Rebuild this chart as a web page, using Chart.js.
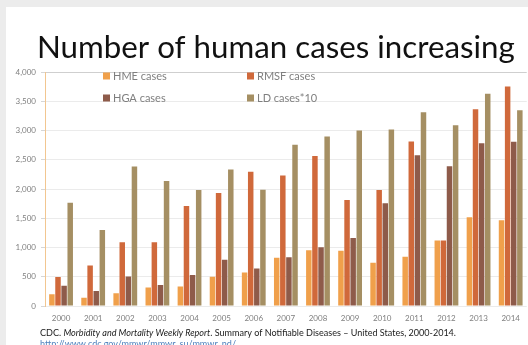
<!DOCTYPE html>
<html>
<head>
<meta charset="utf-8">
<script src="https://cdn.jsdelivr.net/npm/chart.js@4/dist/chart.umd.min.js"></script>
<style>
  html, body { margin: 0; padding: 0; background: #ececec; }
  #wrap { position: absolute; left: 0; top: 0; width: 528px; height: 345px; }
</style>
</head>
<body>
<div id="wrap"><canvas id="chart" width="528" height="345"></canvas></div>
<script>
const years = ['2000', '2001', '2002', '2003', '2004', '2005', '2006', '2007',
  '2008', '2009', '2010', '2011', '2012', '2013', '2014'];
const hmeCases = [200, 142, 216, 318, 335, 500, 574, 824, 954, 943, 738, 841, 1119, 1517, 1465];
const rmsfCases = [494, 693, 1091, 1091, 1710, 1931, 2295, 2232, 2562, 1812, 1982, 2812, 1119, 3363, 3754];
const hgaCases = [346, 256, 506, 358, 528, 790, 642, 835, 1005, 1164, 1755, 2579, 2391, 2783, 2806];
const ldCasesX10 = [1767, 1301, 2386, 2136, 1982, 2334, 1988, 2755, 2897, 2999, 3016, 3311, 3090, 3630, 3346];
const seriesNames = ['HME cases', 'RMSF cases', 'HGA cases', 'LD cases*10'];
const seriesColors = ['#f0a04b', '#d0693b', '#8e5b4a', '#a58f63'];
const yMax = 4000;
const yStep = 500;

const titleText = 'Number of human cases increasing';
const sourceParts = [
  ['CDC. ', false],
  ['Morbidity and Mortality Weekly Report', true],
  ['. Summary of Notifiable Diseases \u2013 United States, 2000-2014.', false]
];
const sourceLink = 'http://www.cdc.gov/mmwr/mmwr_su/mmwr_nd/';

const FONT = 'Lato, "Open Sans", sans-serif';

// slide frame, title, legend and source note
const slidePlugin = {
  id: 'slide',
  beforeDraw(chart) {
    const ctx = chart.ctx;
    ctx.save();
    ctx.fillStyle = '#ececec';
    ctx.fillRect(0, 0, chart.width, chart.height);
    ctx.fillStyle = '#ffffff';
    ctx.fillRect(6, 7, chart.width - 6, chart.height - 7);
    ctx.restore();
  },
  afterDraw(chart) {
    const ctx = chart.ctx;
    ctx.save();

    // title, fitted to its width in the slide
    let size = 32;
    ctx.font = size + 'px ' + FONT;
    size = size * 478 / ctx.measureText(titleText).width;
    ctx.font = size + 'px ' + FONT;
    ctx.fillStyle = '#111111';
    ctx.textBaseline = 'alphabetic';
    ctx.textAlign = 'left';
    ctx.fillText(titleText, 37, 58);

    // legend, two columns inside the plot
    const cols = [103, 247];
    const rows = [76, 98];
    ctx.font = '11px ' + FONT;
    ctx.textBaseline = 'middle';
    chart.data.datasets.forEach((ds, i) => {
      const x = cols[i % 2];
      const y = rows[Math.floor(i / 2)];
      ctx.fillStyle = ds.backgroundColor;
      ctx.fillRect(x, y - 3.5, 7, 7);
      ctx.fillStyle = '#7f7f7f';
      ctx.fillText(ds.label, x + 10, y + 0.5);
    });

    // source note
    let fs = 8;
    const measure = (s) => {
      let w = 0;
      sourceParts.forEach(([t, it]) => {
        ctx.font = (it ? 'italic ' : '') + s + 'px ' + FONT;
        w += ctx.measureText(t).width;
      });
      return w;
    };
    fs = fs * 417 / measure(fs);
    let x = 40;
    ctx.fillStyle = '#1a1a1a';
    ctx.textBaseline = 'middle';
    sourceParts.forEach(([t, it]) => {
      ctx.font = (it ? 'italic ' : '') + fs + 'px ' + FONT;
      ctx.fillText(t, x, 333);
      x += ctx.measureText(t).width;
    });
    ctx.font = fs + 'px ' + FONT;
    ctx.fillStyle = '#4f81bd';
    ctx.fillText(sourceLink, 40, 344);
    ctx.restore();
  }
};

new Chart(document.getElementById('chart'), {
  type: 'bar',
  data: {
    labels: years,
    datasets: [hmeCases, rmsfCases, hgaCases, ldCasesX10].map((values, i) => ({
      label: seriesNames[i],
      data: values,
      backgroundColor: seriesColors[i],
      borderWidth: 0,
      barPercentage: 0.9,
      categoryPercentage: 0.76
    }))
  },
  options: {
    responsive: false,
    animation: false,
    devicePixelRatio: 1,
    layout: { padding: { left: 0, right: 1, top: 72, bottom: 19 } },
    plugins: {
      legend: { display: false },
      title: { display: false },
      tooltip: { enabled: false }
    },
    scales: {
      x: {
        afterFit: (scale) => { scale.height = 20; },
        grid: { display: false, drawTicks: false },
        border: { display: false },
        ticks: {
          padding: 8,
          color: '#7f7f7f',
          font: { family: FONT, size: 8 },
          maxRotation: 0
        }
      },
      y: {
        min: 0,
        max: yMax,
        afterFit: (scale) => { scale.width = 45; },
        grid: {
          color: (c) => (c.tick && c.tick.value === yMax ? '#cfcfcf' : '#ebebeb'),
          tickLength: 4,
          tickColor: '#d6d6d6'
        },
        border: { color: '#f2c690', width: 1 },
        ticks: {
          stepSize: yStep,
          padding: 5,
          color: '#7f7f7f',
          font: { family: FONT, size: 8 },
          callback: (v) => v.toLocaleString('en-US')
        }
      }
    }
  },
  plugins: [slidePlugin]
});
</script>
</body>
</html>
